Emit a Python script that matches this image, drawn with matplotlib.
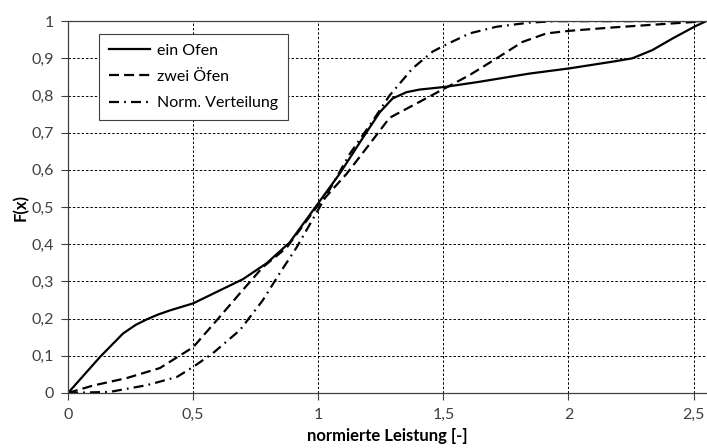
import numpy as np
import matplotlib.pyplot as plt

plt.rcParams['font.family'] = ['Lato', 'DejaVu Sans']

# Daten
x_ein = [0.0, 0.128, 0.22, 0.27, 0.315, 0.36, 0.407, 0.5, 0.607, 0.699, 0.794, 0.886,
         0.978, 1.086, 1.178, 1.246, 1.297, 1.353, 1.405, 1.505, 1.645, 1.844,
         2.004, 2.176, 2.255, 2.335, 2.415, 2.503, 2.55]
y_ein = [0.0, 0.097, 0.16, 0.183, 0.198, 0.211, 0.222, 0.241, 0.276, 0.306, 0.349, 0.405,
         0.49, 0.59, 0.686, 0.755, 0.792, 0.809, 0.816, 0.823, 0.837, 0.859,
         0.873, 0.891, 0.9, 0.922, 0.953, 0.985, 1.0]

x_zwei = [0.0, 0.1, 0.234, 0.367, 0.5, 0.595, 0.687, 0.778, 0.874, 0.994, 1.114,
          1.206, 1.285, 1.405, 1.505, 1.605, 1.713, 1.816, 1.912, 2.004, 2.176,
          2.375, 2.55]
y_zwei = [0.0, 0.02, 0.04, 0.067, 0.123, 0.196, 0.268, 0.338, 0.391, 0.5, 0.59,
          0.67, 0.74, 0.783, 0.819, 0.855, 0.9, 0.944, 0.967, 0.974, 0.983,
          0.992, 1.0]

x_norm = [0.0, 0.168, 0.315, 0.435, 0.5, 0.579, 0.687, 0.778, 0.846, 0.914, 1.006,
          1.126, 1.218, 1.285, 1.377, 1.457, 1.505, 1.605, 1.713, 1.844, 1.95, 2.55]
y_norm = [0.0, 0.003, 0.021, 0.043, 0.07, 0.107, 0.169, 0.249, 0.322, 0.392, 0.5,
          0.643, 0.732, 0.8, 0.873, 0.918, 0.935, 0.967, 0.985, 0.996, 1.0, 1.0]

x_ticks = [0, 0.5, 1, 1.5, 2, 2.5]
x_labels = ['0', '0,5', '1', '1,5', '2', '2,5']
y_ticks = [0, 0.1, 0.2, 0.3, 0.4, 0.5, 0.6, 0.7, 0.8, 0.9, 1]
y_labels = ['0', '0,1', '0,2', '0,3', '0,4', '0,5', '0,6', '0,7', '0,8', '0,9', '1']

fig = plt.figure(figsize=(7.07, 4.48), dpi=100)
ax = fig.add_axes([0.0962, 0.1228, 0.9025, 0.830])

lw = 1.6
ax.plot(x_ein, y_ein, color='black', lw=lw, label='ein Ofen')
ax.plot(x_zwei, y_zwei, color='black', lw=lw, dashes=(4.5, 2.3), label='zwei Öfen')
ax.plot(x_norm, y_norm, color='black', lw=lw, dashes=(4.5, 2.3, 0.8, 2.3),
        label='Norm. Verteilung')

ax.set_xlim(0, 2.55)
ax.set_ylim(0, 1)
ax.set_xticks(x_ticks)
ax.set_xticklabels(x_labels)
ax.set_yticks(y_ticks)
ax.set_yticklabels(y_labels)
ax.tick_params(labelsize=11.5, colors='#404040', length=5, width=0.8, direction='out')
ax.tick_params(axis='x', pad=6)
ax.tick_params(axis='y', pad=5)

ax.grid(True, color='black', lw=0.7, dashes=(2.5, 2))
ax.set_axisbelow(True)
for s in ['left', 'bottom', 'top']:
    ax.spines[s].set_color('#404040')
    ax.spines[s].set_linewidth(0.9)
ax.spines['right'].set_visible(False)

ax.set_xlabel('normierte Leistung [-]', fontsize=12, fontweight='bold', labelpad=4)
ax.set_ylabel('F(x)', fontsize=12, fontweight='bold', labelpad=2)

leg = ax.legend(loc='upper left', bbox_to_anchor=(0.0485, 0.965), borderaxespad=0,
                fontsize=11.5, handlelength=2.6, handletextpad=0.45,
                labelspacing=0.75, fancybox=False, framealpha=1, borderpad=0.6)
leg.get_frame().set_edgecolor('#404040')
leg.get_frame().set_linewidth(0.8)

plt.savefig('out.png', dpi=100)
